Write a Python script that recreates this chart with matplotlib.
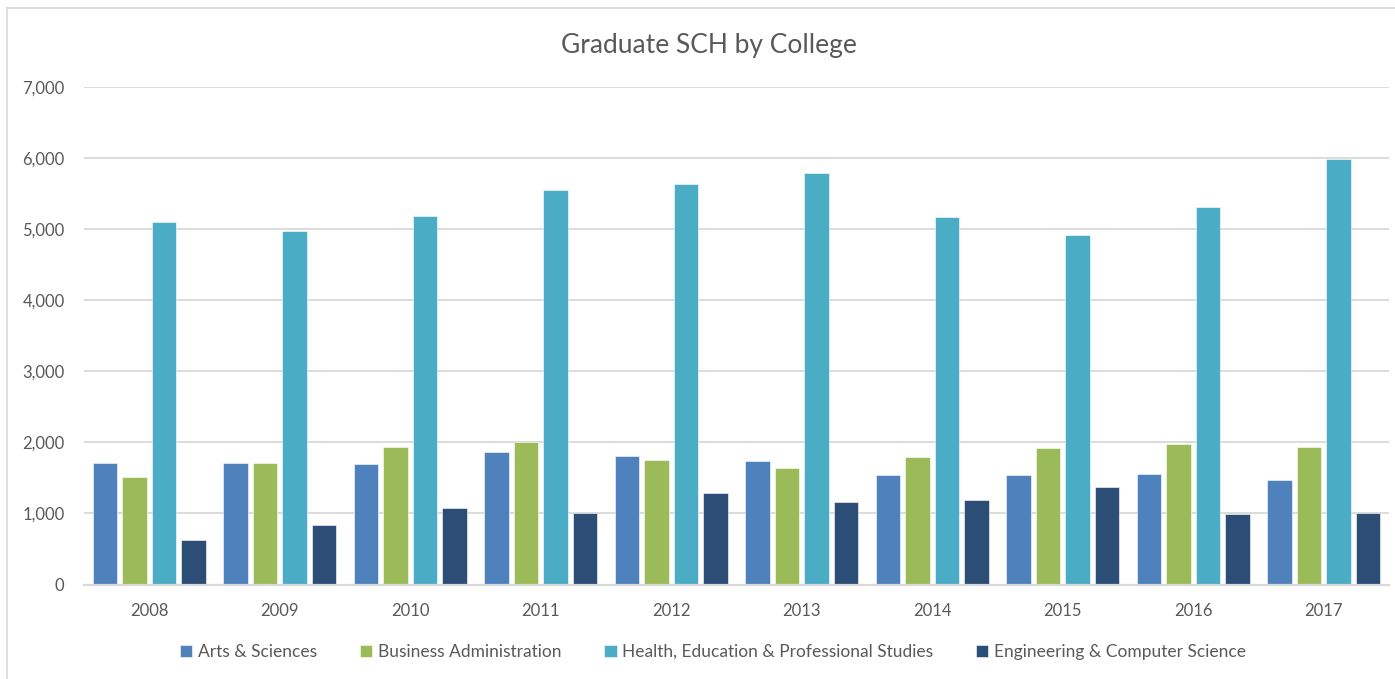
import matplotlib
matplotlib.use("Agg")
import matplotlib.pyplot as plt
import numpy as np
from matplotlib.ticker import FuncFormatter
from matplotlib.lines import Line2D

years = ["2008", "2009", "2010", "2011", "2012", "2013", "2014", "2015", "2016", "2017"]
arts_sciences = [1710, 1715, 1700, 1865, 1815, 1740, 1545, 1545, 1555, 1465]
business_admin = [1510, 1705, 1940, 2000, 1750, 1645, 1800, 1915, 1980, 1930]
health_edu_prof = [5100, 4970, 5190, 5550, 5645, 5790, 5170, 4920, 5310, 5990]
engineering_cs = [625, 840, 1070, 1000, 1290, 1160, 1195, 1375, 995, 1005]

series_names = ["Arts & Sciences", "Business Administration",
                "Health, Education & Professional Studies", "Engineering & Computer Science"]
series_colors = ["#4F81BD", "#9BBB59", "#4BACC6", "#2C4D75"]

plt.rcParams['font.family'] = ['Lato', 'DejaVu Sans']
text_color = "#595959"

fig = plt.figure(figsize=(13.95, 6.79), dpi=100)
ax = fig.add_axes([84/1395, 1-584.5/679, (1389-84)/1395, (584.5-87.3)/679])

x = np.arange(len(years))
w = 0.188
gap = 0.0377
step = w + gap
offsets = (np.arange(4) - 1.5) * step
all_series = [arts_sciences, business_admin, health_edu_prof, engineering_cs]
for vals, off, col, name in zip(all_series, offsets, series_colors, series_names):
    ax.bar(x + off, vals, width=w, color=col, label=name, zorder=3,
           edgecolor="white", linewidth=0.4)

ax.set_xlim(-0.5, len(years) - 0.5)
ax.set_ylim(0, 7000)
ax.set_yticks(np.arange(0, 7001, 1000))
ax.yaxis.set_major_formatter(FuncFormatter(lambda v, p: f"{int(v):,}"))
ax.set_xticks(x)
ax.set_xticklabels(years)
ax.grid(axis="y", color="#D9D9D9", linewidth=1.3, zorder=0)
for s in ["top", "right", "left"]:
    ax.spines[s].set_visible(False)
ax.spines["bottom"].set_color("#D9D9D9")
ax.spines["bottom"].set_linewidth(1.6)
ax.spines["bottom"].set_zorder(4)
ax.tick_params(axis="both", length=0, colors=text_color, labelsize=12)
ax.tick_params(axis="y", pad=14)
ax.tick_params(axis="x", pad=13)

fig.text(709/1395, 1-45/679, "Graduate SCH by College", ha="center", va="center",
         fontsize=19, color=text_color)

leg = fig.legend(loc="center", bbox_to_anchor=(713/1395, 1-652/679), ncol=4,
                 frameon=False, fontsize=12.5, handlelength=0.7, handleheight=0.7,
                 handletextpad=0.3, columnspacing=2.5, labelcolor=text_color)

# chart border (left and top)
fig.add_artist(Line2D([7/1395, 7/1395], [0, 1-8/679], transform=fig.transFigure,
                      color="#D9D9D9", linewidth=1.2))
fig.add_artist(Line2D([7/1395, 1], [1-8/679, 1-8/679], transform=fig.transFigure,
                      color="#D9D9D9", linewidth=1.2))

fig.savefig("out.png", dpi=100, facecolor="white")
